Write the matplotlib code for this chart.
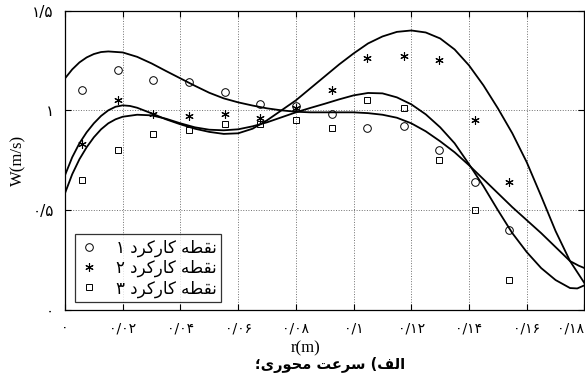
import numpy as np
import matplotlib
matplotlib.use('Agg')
from matplotlib import pyplot as plt

# measured points (r in m, W in m/s)
r_pts = [0.006, 0.0184, 0.0306, 0.043, 0.0556, 0.0676, 0.080,
         0.0925, 0.1048, 0.1173, 0.1296, 0.1419, 0.154]
w_op1 = [1.10, 1.20, 1.15, 1.14, 1.09, 1.03, 1.02,
         0.98, 0.91, 0.92, 0.80, 0.64, 0.40]
w_op2 = [0.83, 1.05, 0.98, 0.97, 0.98, 0.96, 1.01,
         1.10, 1.26, 1.27, 1.25, 0.95, 0.64]
w_op3 = [0.65, 0.80, 0.88, 0.90, 0.93, 0.93, 0.95,
         0.91, 1.05, 1.01, 0.75, 0.50, 0.15]

# fitted curves
r_fit1 = [0.0, 0.0025, 0.005, 0.0075, 0.010, 0.0125, 0.015, 0.020, 0.025, 0.030,
          0.035, 0.040, 0.045, 0.050, 0.055, 0.060, 0.065, 0.070, 0.075, 0.080,
          0.085, 0.090, 0.095, 0.100, 0.105, 0.110, 0.115, 0.120, 0.125, 0.130,
          0.135, 0.140, 0.145, 0.150, 0.155, 0.160, 0.165, 0.170, 0.175, 0.178,
          0.180]
w_fit1 = [1.16, 1.205, 1.24, 1.265, 1.282, 1.292, 1.295, 1.29, 1.268, 1.235,
          1.197, 1.16, 1.123, 1.088, 1.06, 1.04, 1.024, 1.01, 1.0, 0.993,
          0.99, 0.99, 0.99, 0.99, 0.986, 0.978, 0.963, 0.935, 0.895, 0.845,
          0.79, 0.725, 0.655, 0.585, 0.515, 0.45, 0.385, 0.315, 0.245, 0.222,
          0.21]
r_fit2 = [0.0, 0.0025, 0.005, 0.0075, 0.010, 0.0125, 0.015, 0.0175, 0.020, 0.0225,
          0.025, 0.030, 0.035, 0.040, 0.045, 0.050, 0.055, 0.060, 0.065, 0.070,
          0.075, 0.080, 0.085, 0.090, 0.095, 0.100, 0.105, 0.110, 0.115, 0.120,
          0.125, 0.130, 0.135, 0.140, 0.145, 0.150, 0.155, 0.160, 0.165, 0.170,
          0.175, 0.1802]
w_fit2 = [0.675, 0.765, 0.835, 0.89, 0.935, 0.972, 1.0, 1.018, 1.025, 1.022,
          1.013, 0.985, 0.955, 0.93, 0.908, 0.892, 0.882, 0.885, 0.908, 0.95,
          1.0, 1.05, 1.11, 1.17, 1.23, 1.285, 1.335, 1.37, 1.393, 1.40,
          1.39, 1.36, 1.305, 1.225, 1.125, 1.01, 0.885, 0.74, 0.57, 0.395,
          0.245, 0.13]
r_fit3 = [0.0, 0.0025, 0.005, 0.0075, 0.010, 0.0125, 0.015, 0.0175, 0.020, 0.025,
          0.030, 0.035, 0.040, 0.045, 0.050, 0.055, 0.060, 0.065, 0.070, 0.075,
          0.080, 0.085, 0.090, 0.095, 0.100, 0.105, 0.110, 0.115, 0.120, 0.125,
          0.130, 0.135, 0.140, 0.145, 0.150, 0.155, 0.160, 0.165, 0.170, 0.175,
          0.1775, 0.1802]
w_fit3 = [0.585, 0.68, 0.755, 0.815, 0.865, 0.905, 0.935, 0.955, 0.968, 0.978,
          0.975, 0.958, 0.935, 0.915, 0.903, 0.9, 0.905, 0.92, 0.94, 0.965,
          0.99, 1.012, 1.033, 1.055, 1.075, 1.087, 1.085, 1.065, 1.03, 0.98,
          0.915, 0.835, 0.73, 0.62, 0.5, 0.385, 0.29, 0.21, 0.15, 0.11,
          0.108, 0.125]

xticks = [0, 0.02, 0.04, 0.06, 0.08, 0.1, 0.12, 0.14, 0.16, 0.18]
xtick_labels = ['۰', '۰/۰۲', '۰/۰۴', '۰/۰۶', '۰/۰۸', '۰/۱', '۰/۱۲', '۰/۱۴', '۰/۱۶', '۰/۱۸']
yticks = [0, 0.5, 1, 1.5]
ytick_labels = ['۰', '۰/۵', '۱', '۱/۵']
legend_labels = ['نقطه کارکرد ۱', 'نقطه کارکرد ۲', 'نقطه کارکرد ۳']
caption = 'الف) سرعت محوری؛'

# matplotlib does not shape arabic script, so do it by hand
forms = {
    'ا': ('\uFE8D', '\uFE8E'), 'د': ('\uFEA9', '\uFEAA'),
    'ر': ('\uFEAD', '\uFEAE'), 'و': ('\uFEED', '\uFEEE'),
    'ن': ('\uFEE5', '\uFEE6', '\uFEE7', '\uFEE8'),
    'ق': ('\uFED5', '\uFED6', '\uFED7', '\uFED8'),
    'ط': ('\uFEC1', '\uFEC2', '\uFEC3', '\uFEC4'),
    'ه': ('\uFEE9', '\uFEEA', '\uFEEB', '\uFEEC'),
    'ک': ('\uFB8E', '\uFB8F', '\uFB90', '\uFB91'),
    'ل': ('\uFEDD', '\uFEDE', '\uFEDF', '\uFEE0'),
    'ف': ('\uFED1', '\uFED2', '\uFED3', '\uFED4'),
    'س': ('\uFEB1', '\uFEB2', '\uFEB3', '\uFEB4'),
    'ع': ('\uFEC9', '\uFECA', '\uFECB', '\uFECC'),
    'ت': ('\uFE95', '\uFE96', '\uFE97', '\uFE98'),
    'م': ('\uFEE1', '\uFEE2', '\uFEE3', '\uFEE4'),
    'ح': ('\uFEA1', '\uFEA2', '\uFEA3', '\uFEA4'),
    'ی': ('\uFBFC', '\uFBFD', '\uFBFE', '\uFBFF'),
}

def farsi(txt):
    out = []
    for i, c in enumerate(txt):
        if c not in forms:
            out.append({'(': ')', ')': '('}.get(c, c))
            continue
        f = forms[c]
        prev_j = i > 0 and txt[i-1] in forms and len(forms[txt[i-1]]) == 4
        next_j = i + 1 < len(txt) and txt[i+1] in forms
        if len(f) == 2:
            out.append(f[1] if prev_j else f[0])
        elif prev_j and next_j:
            out.append(f[3])
        elif prev_j:
            out.append(f[1])
        elif next_j:
            out.append(f[2])
        else:
            out.append(f[0])
    return ''.join(out[::-1])

plt.rcParams['font.family'] = ['DejaVu Sans']

fig = plt.figure(figsize=(5.85, 3.74), dpi=100)
ax = fig.add_axes([0.1111, 0.1711, 0.888, 0.8008])

ax.plot(r_fit1, w_fit1, color='black', lw=1.3)
ax.plot(r_fit2, w_fit2, color='black', lw=1.3)
ax.plot(r_fit3, w_fit3, color='black', lw=1.3)

ax.plot(r_pts, w_op1, 'o', mfc='none', mec='black', ms=5.5, mew=0.7, label=farsi(legend_labels[0]))
ax.plot(r_pts, w_op2, marker=(6, 2, 0), ls='none', color='black', ms=6, mew=0.8, label=farsi(legend_labels[1]))
ax.plot(r_pts, w_op3, 's', mfc='none', mec='black', ms=4.5, mew=0.7, label=farsi(legend_labels[2]))

ax.set_xlim(0, 0.18)
ax.set_ylim(0, 1.5)
ax.set_xticks(xticks)
ax.set_xticklabels(xtick_labels, fontsize=10)
ax.get_xticklabels()[-1].set_ha('right')
ax.set_yticks(yticks)
ax.set_yticklabels(ytick_labels, fontsize=11)
ax.tick_params(direction='in', length=4, top=True, right=True, width=0.8)
ax.tick_params(axis='x', pad=8)
ax.tick_params(axis='y', pad=8)
ax.grid(True, ls=':', color='#707070', lw=0.7)
for s in ax.spines.values():
    s.set_linewidth(0.9)

ax.set_ylabel('W(m/s)', family='Liberation Serif', fontsize=12, labelpad=4)

leg = ax.legend(loc='lower left', bbox_to_anchor=(0.003, 0.0), fontsize=12,
                frameon=True, fancybox=False, edgecolor='black', handlelength=1.2,
                handletextpad=1.0, borderpad=0.25, labelspacing=0.12)
leg.get_frame().set_linewidth(0.9)

fig.text(306/585, 1 - 348/374, 'r(m)', family='Liberation Serif', fontsize=12, ha='center', va='center')
fig.text(330/585, 1 - 365/374, farsi(caption), fontsize=10.5, weight='bold', ha='center', va='center')

fig.savefig('out.png', dpi=100)
